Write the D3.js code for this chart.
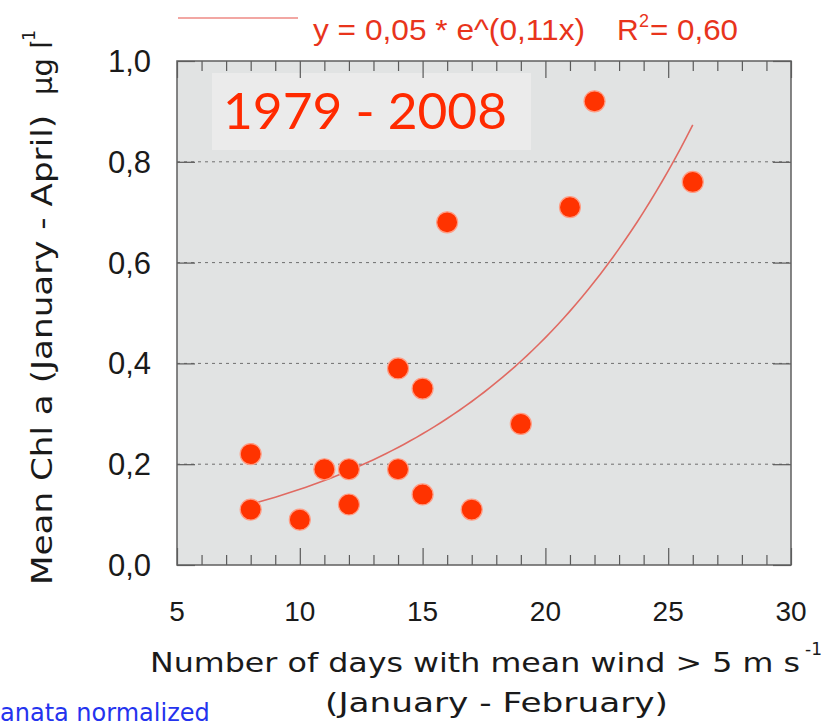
<!DOCTYPE html>
<html>
<head>
<meta charset="utf-8">
<script src="https://cdn.jsdelivr.net/npm/d3@7"></script>
<style>
  html, body { margin: 0; padding: 0; background: #ffffff; }
  svg { display: block; }
</style>
</head>
<body>
<script>
// Wind days (Jan–Feb) vs. mean Chl a (Jan–Apr), 1979–2008
const windDays = [8, 8, 10, 11, 12, 12, 14, 14, 15, 15, 16, 17, 19, 21, 22, 26];
const chlA     = [0.22, 0.11, 0.09, 0.19, 0.19, 0.12, 0.39, 0.19, 0.35, 0.14, 0.68, 0.11, 0.28, 0.71, 0.92, 0.76];

// Exponential fit y = a * e^(b x), as stated in the legend
const fitA = 0.05;
const fitB = 0.11;
const fitR2 = 0.60;
const fitRange = [8, 26];

const xTicks = [5, 10, 15, 20, 25, 30];
const yTicks = [0.0, 0.2, 0.4, 0.6, 0.8, 1.0];
const gridValues = [0.2, 0.4, 0.6, 0.8];

const W = 838, H = 728;
const plot = { left: 177, top: 61, right: 791, bottom: 565 };

const svg = d3.select("body").append("svg")
  .attr("width", W).attr("height", H);

const x = d3.scaleLinear().domain([5, 30]).range([plot.left, plot.right]);
const y = d3.scaleLinear().domain([0, 1]).range([plot.bottom, plot.top]);

const comma = s => s.replace(".", ",");
const fmt1 = v => comma(d3.format(".1f")(v));
const fmt2 = v => comma(d3.format(".2f")(v));

const SANS = "'Liberation Sans', Arial, sans-serif";
const VERD = "'DejaVu Sans', Verdana, sans-serif";

// plot background
svg.append("rect")
  .attr("x", plot.left).attr("y", plot.top)
  .attr("width", plot.right - plot.left).attr("height", plot.bottom - plot.top)
  .attr("fill", "#e1e3e3");

// period label box
svg.append("rect")
  .attr("x", 212).attr("y", 73).attr("width", 319).attr("height", 77)
  .attr("fill", "#ebebeb");
svg.append("text")
  .attr("x", 223).attr("y", 129)
  .attr("font-family", "Lato, 'Open Sans', sans-serif")
  .attr("font-size", 50)
  .attr("fill", "#ff2a00")
  .attr("textLength", 284).attr("lengthAdjust", "spacingAndGlyphs")
  .text("1979 - 2008");

// dashed grid
svg.append("g").selectAll("line").data(gridValues).join("line")
  .attr("x1", plot.left).attr("x2", plot.right)
  .attr("y1", d => y(d)).attr("y2", d => y(d))
  .attr("stroke", "#6f6f6f").attr("stroke-width", 1)
  .attr("stroke-dasharray", "3,4");

// x axes (bottom and mirrored top), ticks pointing inward
const xMinor = d3.range(5, 31, 1);
const axisColor = "#5a5a5a";
const gB = svg.append("g").attr("transform", `translate(0,${plot.bottom})`)
  .call(d3.axisTop(x).tickValues(xMinor).tickSize(0).tickFormat(""));
gB.select(".domain").remove();
gB.selectAll(".tick line")
  .attr("y2", d => d % 5 === 0 ? -17 : -10)
  .attr("stroke", axisColor).attr("stroke-width", 1.2);

const gT = svg.append("g").attr("transform", `translate(0,${plot.top})`)
  .call(d3.axisBottom(x).tickValues(xMinor).tickSize(0).tickFormat(""));
gT.select(".domain").remove();
gT.selectAll(".tick line")
  .attr("y2", d => d % 5 === 0 ? 17 : 10)
  .attr("stroke", axisColor).attr("stroke-width", 1.2);

// y axes (left and right), ticks pointing inward
const gL = svg.append("g").attr("transform", `translate(${plot.left},0)`)
  .call(d3.axisRight(y).tickValues(yTicks).tickSize(18).tickFormat(""));
gL.select(".domain").remove();
gL.selectAll(".tick line").attr("stroke", axisColor).attr("stroke-width", 1.2);

const gR = svg.append("g").attr("transform", `translate(${plot.right},0)`)
  .call(d3.axisLeft(y).tickValues(yTicks).tickSize(18).tickFormat(""));
gR.select(".domain").remove();
gR.selectAll(".tick line").attr("stroke", axisColor).attr("stroke-width", 1.2);

// frame
svg.append("rect")
  .attr("x", plot.left).attr("y", plot.top)
  .attr("width", plot.right - plot.left).attr("height", plot.bottom - plot.top)
  .attr("fill", "none").attr("stroke", "#5f5f5f").attr("stroke-width", 1.5);

// tick labels
svg.append("g").selectAll("text").data(xTicks).join("text")
  .attr("x", d => x(d)).attr("y", 621)
  .attr("text-anchor", "middle")
  .attr("font-family", SANS)
  .attr("font-size", 28).attr("fill", "#1a1a1a")
  .text(d => d);

svg.append("g").selectAll("text").data(yTicks).join("text")
  .attr("x", 151).attr("y", d => y(d) + 11)
  .attr("text-anchor", "end")
  .attr("font-family", SANS)
  .attr("font-size", 31).attr("fill", "#1a1a1a")
  .text(d => fmt1(d));

// fitted curve
const fitX = d3.range(fitRange[0], fitRange[1] + 0.001, 0.25);
const line = d3.line().x(d => x(d)).y(d => y(fitA * Math.exp(fitB * d)));
svg.append("path")
  .datum(fitX)
  .attr("d", line)
  .attr("fill", "none")
  .attr("stroke", "#e06a62").attr("stroke-width", 1.6);

// observations
svg.append("g").selectAll("circle").data(windDays).join("circle")
  .attr("cx", d => x(d))
  .attr("cy", (d, i) => y(chlA[i]))
  .attr("r", 10.5)
  .attr("fill", "#ff3300")
  .attr("stroke", "#ff9d85").attr("stroke-width", 1.2);

// legend
const legColor = "#e8341c";
svg.append("line")
  .attr("x1", 178).attr("x2", 298).attr("y1", 18).attr("y2", 18)
  .attr("stroke", "#ee8a84").attr("stroke-width", 1.6);
svg.append("text")
  .attr("x", 313).attr("y", 40)
  .attr("font-family", SANS).attr("font-size", 30).attr("fill", legColor)
  .attr("textLength", 272).attr("lengthAdjust", "spacingAndGlyphs")
  .text(`y = ${fmt2(fitA)} * e^(${fmt2(fitB)}x)`);
svg.append("text")
  .attr("x", 617).attr("y", 40)
  .attr("font-family", SANS).attr("font-size", 30).attr("fill", legColor)
  .text("R");
svg.append("text")
  .attr("x", 639).attr("y", 27)
  .attr("font-family", SANS).attr("font-size", 18).attr("fill", legColor)
  .text("2");
svg.append("text")
  .attr("x", 650).attr("y", 40)
  .attr("font-family", SANS).attr("font-size", 30).attr("fill", legColor)
  .attr("textLength", 88).attr("lengthAdjust", "spacingAndGlyphs")
  .text(`= ${fmt2(fitR2)}`);

// x axis title
svg.append("text")
  .attr("x", 150).attr("y", 672)
  .attr("font-family", VERD).attr("font-size", 27).attr("fill", "#1a1a1a")
  .attr("textLength", 650).attr("lengthAdjust", "spacingAndGlyphs")
  .text("Number of days with mean wind > 5 m s");
svg.append("text")
  .attr("x", 805).attr("y", 655)
  .attr("font-family", VERD).attr("font-size", 17).attr("fill", "#1a1a1a")
  .text("-1");
svg.append("text")
  .attr("x", 325).attr("y", 712)
  .attr("font-family", VERD).attr("font-size", 27).attr("fill", "#1a1a1a")
  .attr("textLength", 343).attr("lengthAdjust", "spacingAndGlyphs")
  .text("(January - February)");

// y axis title (rotated)
const yTitle = svg.append("g").attr("transform", "translate(52,585) rotate(-90)");
yTitle.append("text")
  .attr("x", 0).attr("y", 0)
  .attr("font-family", VERD).attr("font-size", 29).attr("fill", "#1a1a1a")
  .attr("textLength", 470).attr("lengthAdjust", "spacingAndGlyphs")
  .text("Mean Chl a (January - April)");
yTitle.append("text")
  .attr("x", 490).attr("y", 0)
  .attr("font-family", VERD).attr("font-size", 29).attr("fill", "#1a1a1a")
  .text("\u00b5g l");
yTitle.append("text")
  .attr("x", 538).attr("y", -17)
  .attr("font-family", VERD).attr("font-size", 17).attr("fill", "#1a1a1a")
  .text("-1");

// note at lower left
svg.append("text")
  .attr("x", 0).attr("y", 721)
  .attr("font-family", VERD)
  .attr("font-size", 24).attr("fill", "#2433ee")
  .text("anata normalized");
</script>
</body>
</html>
